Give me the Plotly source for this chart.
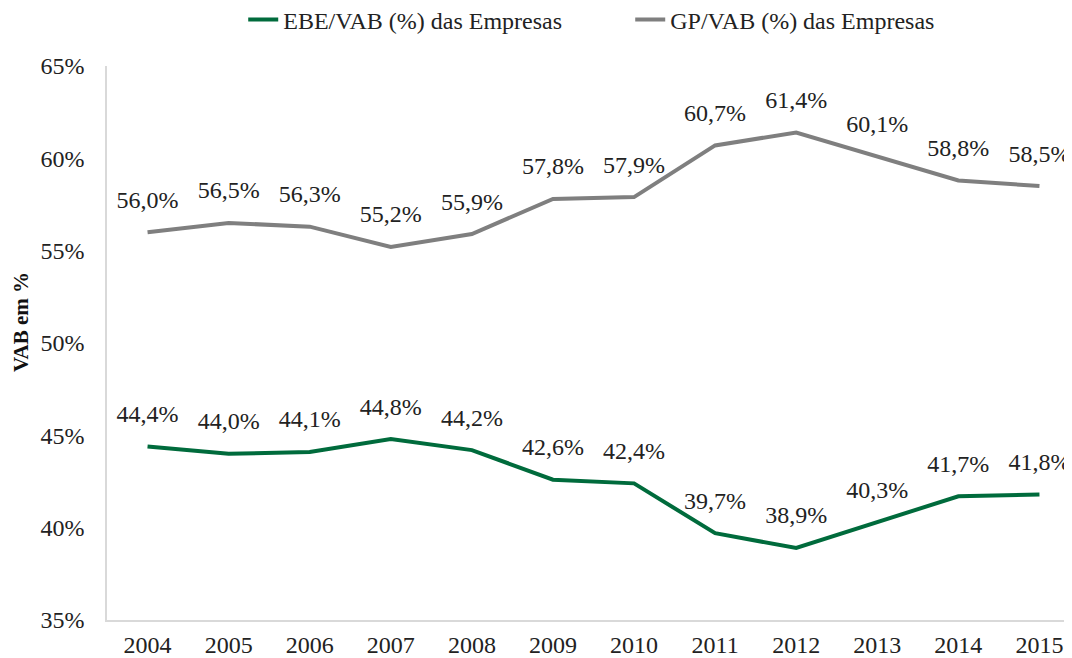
import plotly.graph_objects as go

years = ["2004", "2005", "2006", "2007", "2008", "2009", "2010", "2011", "2012", "2013", "2014", "2015"]
ebe = [44.4, 44.0, 44.1, 44.8, 44.2, 42.6, 42.4, 39.7, 38.9, 40.3, 41.7, 41.8]
gp = [56.0, 56.5, 56.3, 55.2, 55.9, 57.8, 57.9, 60.7, 61.4, 60.1, 58.8, 58.5]
yticks = [35, 40, 45, 50, 55, 60, 65]

def fmt(v):
    return f"{v:.1f}%".replace(".", ",")

FONT = "Liberation Serif, Times New Roman, serif"
FS = 24
TXT = "#222222"

fig = go.Figure()
fig.add_trace(go.Scatter(
    x=years, y=ebe, mode="lines+markers+text", name="EBE/VAB (%) das Empresas",
    line=dict(color="#006B3C", width=4),
    marker=dict(size=28, color="rgba(0,0,0,0)"),
    text=[fmt(v) for v in ebe], textposition="top center",
    textfont=dict(family=FONT, size=FS, color=TXT), cliponaxis=False,
))
fig.add_trace(go.Scatter(
    x=years, y=gp, mode="lines+markers+text", name="GP/VAB (%) das Empresas",
    line=dict(color="#7F7F7F", width=4),
    marker=dict(size=28, color="rgba(0,0,0,0)"),
    text=[fmt(v) for v in gp], textposition="top center",
    textfont=dict(family=FONT, size=FS, color=TXT), cliponaxis=False,
))

fig.update_layout(
    width=1072, height=658,
    margin=dict(l=99, r=0, t=58, b=46, autoexpand=False),
    paper_bgcolor="white", plot_bgcolor="white",
    font=dict(family=FONT, size=FS, color=TXT),
    showlegend=True,
    legend=dict(orientation="h", x=0.140, xanchor="left", y=1.083, yanchor="middle",
                font=dict(family=FONT, size=FS, color=TXT),
                entrywidth=342, entrywidthmode="pixels",
                bgcolor="rgba(0,0,0,0)"),
    xaxis=dict(type="category", range=[-0.5, 11.5], showgrid=False,
               showline=True, linecolor="#D9D9D9", linewidth=1.5,
               ticks="", ticklabelstandoff=2,
               tickfont=dict(family=FONT, size=FS, color=TXT)),
    yaxis=dict(range=[35, 65], tickvals=yticks, ticktext=[f"{t}%" for t in yticks],
               showgrid=False, zeroline=False,
               showline=True, linecolor="#D9D9D9", linewidth=1.5,
               ticks="", ticklabelstandoff=16,
               tickfont=dict(family=FONT, size=FS, color=TXT)),
    annotations=[dict(text="<b>VAB em %</b>", xref="paper", yref="paper",
                      x=-0.0884, y=0.538, xanchor="center", yanchor="middle",
                      textangle=-90, showarrow=False,
                      font=dict(family=FONT, size=21, color="#111111"))],
)

fig.write_html("out.html")
